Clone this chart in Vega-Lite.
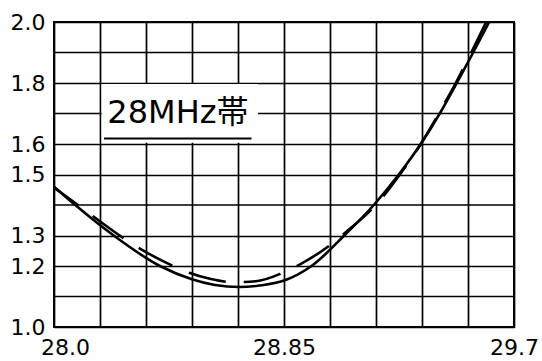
{
  "$schema": "https://vega.github.io/schema/vega-lite/v6.json",
  "width": 460,
  "height": 305,
  "autosize": {"type": "none"},
  "padding": {"left": 54, "top": 22, "right": 28, "bottom": 34},
  "background": "white",
  "config": {
    "view": {"stroke": "black", "strokeWidth": 2},
    "font": "DejaVu Sans",
    "axis": {"labelOverlap": false, "labelBound": false, "labelFlush": false, "title": null}
  },
  "datasets": {
    "solid": [
      {"f": 28.0, "swr": 1.46},
      {"f": 28.0787, "swr": 1.4},
      {"f": 28.2205, "swr": 1.3},
      {"f": 28.3915, "swr": 1.2},
      {"f": 28.5122, "swr": 1.156},
      {"f": 28.5946, "swr": 1.138},
      {"f": 28.6832, "swr": 1.131},
      {"f": 28.768, "swr": 1.137},
      {"f": 28.8531, "swr": 1.153},
      {"f": 28.9517, "swr": 1.2},
      {"f": 29.0729, "swr": 1.3},
      {"f": 29.1818, "swr": 1.4},
      {"f": 29.2742, "swr": 1.5},
      {"f": 29.3554, "swr": 1.6},
      {"f": 29.4256, "swr": 1.7},
      {"f": 29.4884, "swr": 1.8},
      {"f": 29.5493, "swr": 1.9},
      {"f": 29.6084, "swr": 2.0}
    ],
    "dashed": [
      {"f": 28.0, "swr": 1.457},
      {"f": 28.0886, "swr": 1.4},
      {"f": 28.1403, "swr": 1.366},
      {"f": 28.2574, "swr": 1.291},
      {"f": 28.3176, "swr": 1.257},
      {"f": 28.4406, "swr": 1.2},
      {"f": 28.4997, "swr": 1.178},
      {"f": 28.5761, "swr": 1.158},
      {"f": 28.6611, "swr": 1.147},
      {"f": 28.746, "swr": 1.15},
      {"f": 28.8409, "swr": 1.176},
      {"f": 28.9059, "swr": 1.204},
      {"f": 29.0256, "swr": 1.272},
      {"f": 29.0784, "swr": 1.311},
      {"f": 29.1892, "swr": 1.4},
      {"f": 29.2797, "swr": 1.502},
      {"f": 29.3554, "swr": 1.6},
      {"f": 29.4219, "swr": 1.7},
      {"f": 29.4847, "swr": 1.8},
      {"f": 29.5419, "swr": 1.9},
      {"f": 29.5973, "swr": 2.0}
    ],
    "minorGrid": [
      {"swr": 1.1},
      {"swr": 1.4},
      {"swr": 1.7},
      {"swr": 1.9}
    ]
  },
  "layer": [
    {
      "data": {"name": "minorGrid"},
      "mark": {"type": "rule", "color": "black", "strokeWidth": 1.7},
      "encoding": {
        "y": {"field": "swr", "type": "quantitative", "axis": {"title": null}}
      }
    },
    {
      "data": {"name": "solid"},
      "mark": {"type": "line", "color": "black", "strokeWidth": 2.6, "interpolate": "monotone", "clip": true},
      "encoding": {
        "x": {
          "field": "f",
          "type": "quantitative",
          "scale": {"domain": [28.0, 29.7], "nice": false, "zero": false},
          "axis": {
            "title": null,
            "values": [28.0, 28.17, 28.34, 28.51, 28.68, 28.85, 29.02, 29.19, 29.36, 29.53, 29.7],
            "labelExpr": "datum.value == 28 ? '28.0' : datum.value == 28.85 ? '28.85' : datum.value == 29.7 ? '29.7' : ''",
            "grid": true,
            "gridColor": "black",
            "gridWidth": 1.7,
            "gridOpacity": 1,
            "domain": false,
            "ticks": false,
            "tickSize": 0,
            "labelFontSize": 22,
            "labelColor": "black",
            "labelPadding": 10,
            "labelFlush": false,
            "labelOverlap": false,
            "labelBound": false,
            "labelOffset": {"condition": {"test": "datum.value == 28", "value": 11}, "value": 0}
          }
        },
        "y": {
          "field": "swr",
          "type": "quantitative",
          "scale": {"domain": [1.0, 2.0], "nice": false, "zero": false},
          "axis": {
            "title": null,
            "values": [1.0, 1.2, 1.3, 1.5, 1.6, 1.8, 2.0],
            "format": ".1f",
            "grid": true,
            "gridColor": "black",
            "gridWidth": 1.7,
            "gridOpacity": 1,
            "domain": false,
            "ticks": false,
            "tickSize": 0,
            "labelFontSize": 22,
            "labelColor": "black",
            "labelPadding": 9,
            "labelFlush": false,
            "labelOverlap": false,
            "labelBound": false
          }
        }
      }
    },
    {
      "data": {"name": "dashed"},
      "mark": {"type": "line", "color": "black", "strokeWidth": 2.6, "interpolate": "monotone", "clip": true, "strokeDash": [38, 18], "strokeDashOffset": 8},
      "encoding": {
        "x": {"field": "f", "type": "quantitative", "axis": {"title": null}},
        "y": {"field": "swr", "type": "quantitative", "axis": {"title": null}}
      }
    },
    {
      "data": {"values": [{}]},
      "mark": {"type": "rect", "color": "white", "opacity": 1},
      "encoding": {
        "x": {"datum": 28.176, "type": "quantitative", "axis": {"title": null}},
        "x2": {"datum": 28.754},
        "y": {"datum": 1.604, "type": "quantitative", "axis": {"title": null}},
        "y2": {"datum": 1.797}
      }
    },
    {
      "data": {"values": [{"label": "28MHz帯"}]},
      "mark": {"type": "text", "align": "center", "baseline": "alphabetic", "fontSize": 32, "font": "DejaVu Sans, Noto Sans CJK JP", "color": "black"},
      "encoding": {
        "text": {"field": "label"},
        "x": {"datum": 28.458, "type": "quantitative", "axis": {"title": null}},
        "y": {"datum": 1.669, "type": "quantitative", "axis": {"title": null}}
      }
    },
    {
      "data": {"values": [{}]},
      "mark": {"type": "rule", "color": "black", "strokeWidth": 2},
      "encoding": {
        "x": {"datum": 28.185, "type": "quantitative", "axis": {"title": null}},
        "x2": {"datum": 28.73},
        "y": {"datum": 1.6177, "type": "quantitative", "axis": {"title": null}}
      }
    }
  ]
}
